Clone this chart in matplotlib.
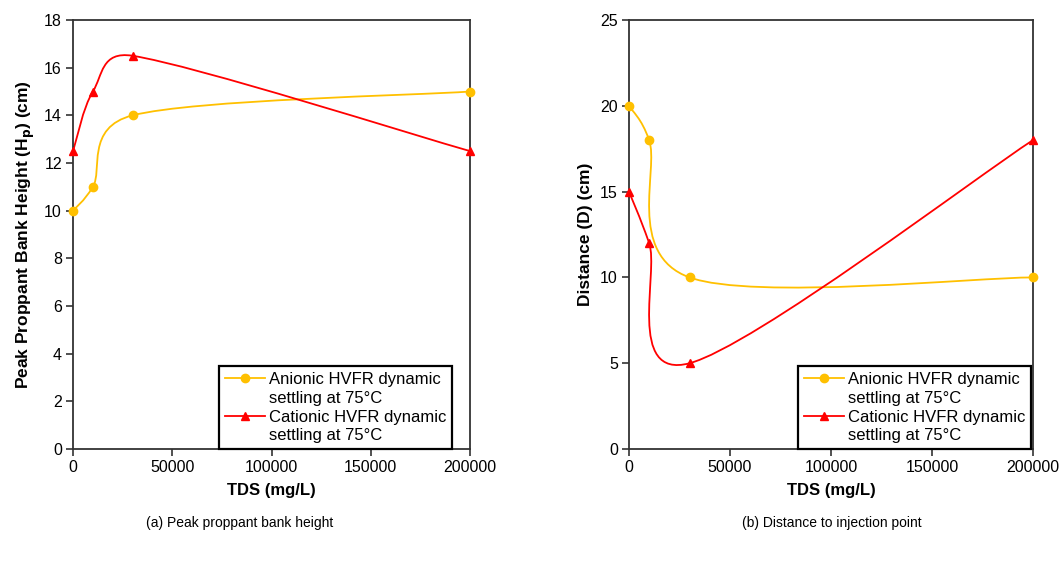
import matplotlib
matplotlib.use("Agg")
import matplotlib.pyplot as plt
from matplotlib.path import Path
from matplotlib.patches import PathPatch
from matplotlib.lines import Line2D
import numpy as np

plt.rcParams['font.family'] = ['Liberation Sans', 'DejaVu Sans']

# data
tds = [0, 10000, 30000, 200000]
height_anionic = [10, 11, 14, 15]
height_cationic = [12.5, 15, 16.5, 12.5]
dist_anionic = [20, 18, 10, 10]
dist_cationic = [15, 12, 5, 18]

gold = '#FFC000'
red = '#FF0000'
spine_col = '#333333'


def smooth_path(ax, x, y, cap=0.6):
    # Excel-like smoothed line: Catmull-Rom tangents turned into cubic Bezier
    # control points, worked out in pixel space, arm length capped per segment
    fig = ax.figure
    bb = ax.get_position()
    x0, x1 = ax.get_xlim()
    y0, y1 = ax.get_ylim()
    sx = bb.width * fig.bbox.width / (x1 - x0)
    sy = bb.height * fig.bbox.height / (y1 - y0)
    pts = np.column_stack([np.asarray(x, float) * sx, np.asarray(y, float) * sy])
    n = len(pts)
    verts = [pts[0]]
    codes = [Path.MOVETO]
    for i in range(n - 1):
        p0 = pts[max(i - 1, 0)]
        p1 = pts[i]
        p2 = pts[i + 1]
        p3 = pts[min(i + 2, n - 1)]
        seg = np.hypot(*(p2 - p1))
        a1 = (p2 - p0) / 6
        a2 = (p3 - p1) / 6
        for a in (a1, a2):
            l = np.hypot(*a)
            if l > cap * seg:
                a *= cap * seg / l
        verts += [p1 + a1, p2 - a2, p2]
        codes += [Path.CURVE4] * 3
    verts = np.array(verts) / [sx, sy]
    return Path(verts, codes)


def draw(ax, y1, y2, ylim, ystep, ylabel):
    ax.set_xlim(0, 200000)
    ax.set_ylim(0, ylim)
    for y, c, m in [(y1, gold, 'o'), (y2, red, '^')]:
        ax.add_patch(PathPatch(smooth_path(ax, tds, y), fill=False, edgecolor=c, lw=1.3, clip_on=False))
        ax.plot(tds, y, linestyle='none', marker=m, color=c, markersize=6, clip_on=False, zorder=3)
    ax.set_xticks(np.arange(0, 200001, 50000))
    ax.set_yticks(np.arange(0, ylim + 0.1, ystep))
    ax.tick_params(direction='out', length=5, width=1.2, color=spine_col, labelsize=11.5, pad=3)
    for s in ax.spines.values():
        s.set_linewidth(1.3)
        s.set_color(spine_col)
    ax.set_xlabel('TDS (mg/L)', fontsize=12, fontweight='bold', labelpad=6)
    ax.set_ylabel(ylabel, fontsize=12.5, fontweight='bold', labelpad=5)


fig = plt.figure(figsize=(10.63, 5.61), dpi=100)
ax1 = fig.add_axes([0.0687, 0.1996, 0.3735, 0.7647])
ax2 = fig.add_axes([0.5917, 0.1996, 0.3800, 0.7647])

draw(ax1, height_anionic, height_cationic, 18, 2, 'Peak Proppant Bank Height (H$_\\mathbf{p}$) (cm)')
draw(ax2, dist_anionic, dist_cationic, 25, 5, 'Distance (D) (cm)')

# each label wraps onto a second line; the marker sits on the first line
blank = Line2D([], [], linestyle='none')
handles = [Line2D([], [], color=gold, marker='o', markersize=6, lw=1.3), blank,
           Line2D([], [], color=red, marker='^', markersize=6, lw=1.3), blank]
labels = ['Anionic HVFR dynamic', 'settling at 75°C', 'Cationic HVFR dynamic', 'settling at 75°C']
for ax, xr in [(ax1, 0.955), (ax2, 0.995)]:
    leg = ax.legend(handles, labels, loc='lower right', bbox_to_anchor=(xr, 0.0),
                    borderaxespad=0, fontsize=12, fancybox=False, framealpha=1,
                    edgecolor='black', handlelength=2.4, handletextpad=0.25,
                    labelspacing=0.22, borderpad=0.35)
    leg.get_frame().set_linewidth(1.6)

fig.text(240 / 1063, 1 - 523 / 561, '(a) Peak proppant bank height', ha='center', va='center', fontsize=10)
fig.text(832 / 1063, 1 - 523 / 561, '(b) Distance to injection point', ha='center', va='center', fontsize=10)

fig.savefig('out.png', dpi=100)
